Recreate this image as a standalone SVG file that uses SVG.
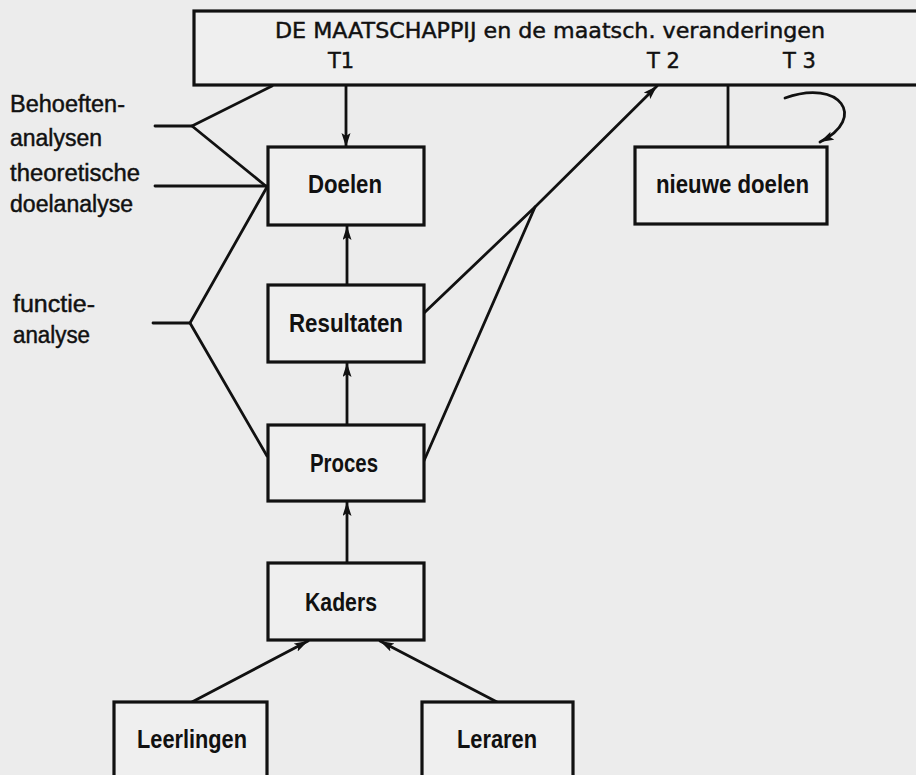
<svg xmlns="http://www.w3.org/2000/svg" width="916" height="775" viewBox="0 0 916 775">
  <style>
    .bg { fill: #ececec; }
    .box { fill: #efefef; stroke: #111; stroke-width: 3.2; }
    .ln { fill: none; stroke: #111; stroke-width: 2.8; stroke-linecap: round; stroke-linejoin: round; }
    .arr { marker-end: url(#ah); }
    .title { font-family: "DejaVu Sans", "Liberation Sans", sans-serif; font-size: 21px; fill: #111; stroke: #111; stroke-width: 0.45; }
    .lbl { font-family: "Liberation Sans", Arial, sans-serif; font-size: 23px; fill: #111; stroke: #111; stroke-width: 0.45; }
    .nm { font-family: "Liberation Sans", Arial, sans-serif; font-size: 25.5px; font-weight: bold; fill: #111; }
  </style>
  <defs>
    <marker id="ah" markerUnits="userSpaceOnUse" markerWidth="15" markerHeight="10" refX="14" refY="4.5" orient="auto">
      <path d="M0,0 L14,4.5 L0,9 L3,4.5 z" fill="#111"/>
    </marker>
  </defs>

  <rect class="bg" x="0" y="0" width="916" height="775"/>

  <g id="connectors">
    <!-- T1 to Doelen -->
    <line class="ln arr" x1="346" y1="86" x2="346" y2="147"/>
    <!-- vertical chain -->
    <line class="ln arr" x1="347" y1="285" x2="347" y2="226"/>
    <line class="ln arr" x1="347" y1="425" x2="347" y2="363"/>
    <line class="ln arr" x1="347" y1="563" x2="347" y2="502"/>
    <!-- Leerlingen / Leraren to Kaders -->
    <line class="ln arr" x1="192" y1="702" x2="308" y2="641"/>
    <line class="ln arr" x1="497" y1="702" x2="380" y2="641"/>
    <!-- Resultaten / Proces to T2 -->
    <path class="ln arr" d="M424,313 L535,207 L657,86"/>
    <path class="ln" d="M423,463 L535,207"/>
    <!-- to nieuwe doelen -->
    <line class="ln" x1="728" y1="86" x2="728" y2="147"/>
    <!-- curved arrow T3 -->
    <path class="ln arr" d="M785,98 C840,78 868,118 820,142"/>
    <!-- Behoeftenanalysen fork -->
    <path class="ln" d="M155,126 L192,126 L272,86"/>
    <path class="ln" d="M192,126 L267,187"/>
    <!-- theoretische doelanalyse -->
    <line class="ln" x1="155" y1="186" x2="267" y2="186"/>
    <!-- functieanalyse fork -->
    <path class="ln" d="M153,323 L190,323 L267,187"/>
    <path class="ln" d="M190,323 L267,456"/>
  </g>

  <g id="maatschappij">
    <rect class="box" x="194" y="11" width="760" height="74"/>
    <text class="title" x="275" y="38" textLength="550" lengthAdjust="spacingAndGlyphs">DE MAATSCHAPPIJ en de maatsch. veranderingen</text>
    <text class="title" x="328" y="68">T1</text>
    <text class="title" x="647" y="68">T 2</text>
    <text class="title" x="783" y="68">T 3</text>
  </g>

  <g id="labels-left">
    <text class="lbl" x="10" y="112" textLength="115" lengthAdjust="spacingAndGlyphs">Behoeften-</text>
    <text class="lbl" x="10" y="146" textLength="92" lengthAdjust="spacingAndGlyphs">analysen</text>
    <text class="lbl" x="10" y="181" textLength="130" lengthAdjust="spacingAndGlyphs">theoretische</text>
    <text class="lbl" x="10" y="212" textLength="123" lengthAdjust="spacingAndGlyphs">doelanalyse</text>
    <text class="lbl" x="13" y="312" textLength="82" lengthAdjust="spacingAndGlyphs">functie-</text>
    <text class="lbl" x="13" y="343" textLength="77" lengthAdjust="spacingAndGlyphs">analyse</text>
  </g>

  <g id="doelen">
    <rect class="box" x="268" y="147" width="156" height="78"/>
    <text class="nm" x="308" y="193" textLength="74" lengthAdjust="spacingAndGlyphs">Doelen</text>
  </g>

  <g id="nieuwe-doelen">
    <rect class="box" x="635" y="147" width="192" height="77"/>
    <text class="nm" x="656" y="193" textLength="153" lengthAdjust="spacingAndGlyphs">nieuwe doelen</text>
  </g>

  <g id="resultaten">
    <rect class="box" x="268" y="285" width="156" height="77"/>
    <text class="nm" x="289" y="332" textLength="114" lengthAdjust="spacingAndGlyphs">Resultaten</text>
  </g>

  <g id="proces">
    <rect class="box" x="268" y="425" width="156" height="76"/>
    <text class="nm" x="310" y="472" textLength="68" lengthAdjust="spacingAndGlyphs">Proces</text>
  </g>

  <g id="kaders">
    <rect class="box" x="268" y="563" width="156" height="77"/>
    <text class="nm" x="305" y="611" textLength="72" lengthAdjust="spacingAndGlyphs">Kaders</text>
  </g>

  <g id="leerlingen">
    <rect class="box" x="114" y="702" width="153" height="90"/>
    <text class="nm" x="137" y="748" textLength="110" lengthAdjust="spacingAndGlyphs">Leerlingen</text>
  </g>

  <g id="leraren">
    <rect class="box" x="422" y="702" width="151" height="90"/>
    <text class="nm" x="457" y="748" textLength="80" lengthAdjust="spacingAndGlyphs">Leraren</text>
  </g>
</svg>
